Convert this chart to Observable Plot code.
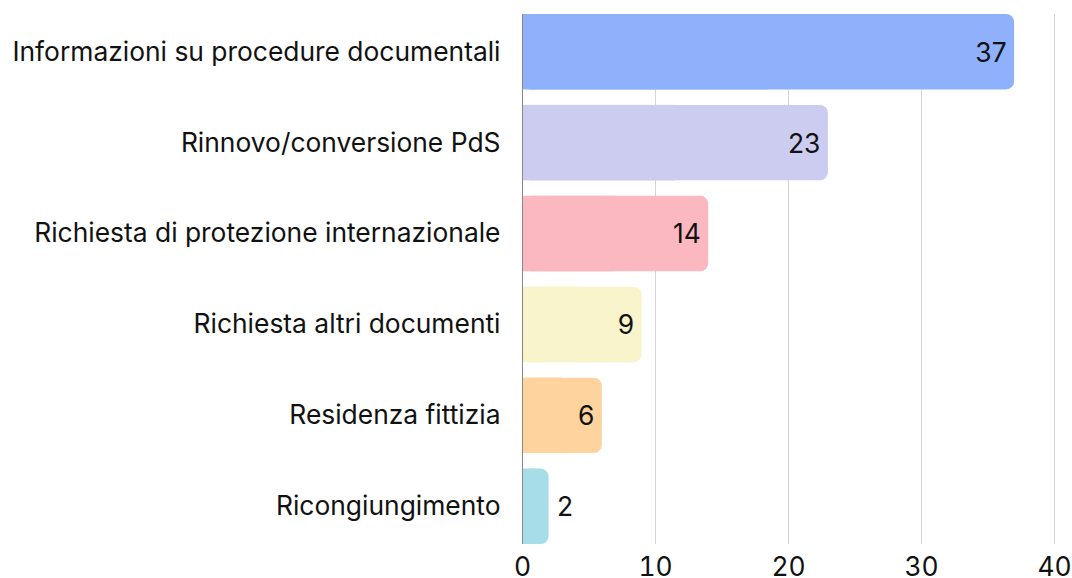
<!DOCTYPE html>
<html>
<head>
<meta charset="utf-8">
<script src="https://cdn.jsdelivr.net/npm/d3@7"></script>
<script src="https://cdn.jsdelivr.net/npm/@observablehq/plot@0.6"></script>
<style>
  html, body { margin: 0; padding: 0; background: #fff; }
  #chart svg { display: block; }
</style>
</head>
<body>
<div id="chart"></div>
<script>
const categories = [
  "Informazioni su procedure documentali",
  "Rinnovo/conversione PdS",
  "Richiesta di protezione internazionale",
  "Richiesta altri documenti",
  "Residenza fittizia",
  "Ricongiungimento"
];
const values = [37, 23, 14, 9, 6, 2];
const colors = ["#8fb0fa", "#cccbf0", "#fbb8c1", "#f9f4cb", "#fed39d", "#a7dde8"];
const xTicks = [0, 10, 20, 30, 40];

const data = categories.map((c, i) => ({category: c, value: values[i], color: colors[i]}));

const chart = Plot.plot({
  width: 1072,
  height: 578,
  marginLeft: 522,
  marginRight: 18,
  marginTop: 14,
  marginBottom: 34,
  style: {fontFamily: "Inter, sans-serif", fontSize: "26.4px", color: "#111", background: "#fff"},
  x: {domain: [0, 40], ticks: xTicks, grid: true, label: null, tickSize: 0, tickPadding: 13},
  y: {domain: categories, padding: 0.17, paddingOuter: 0, round: false, label: null, tickSize: 0, tickPadding: 22},
  marks: [
    Plot.gridX(xTicks, {stroke: "#d4d4d4", strokeOpacity: 1}),
    Plot.barX(data, {y: "category", x: "value", fill: "color", rx: 8}),
    Plot.barX(data, {y: "category", x1: 0, x2: d => d.value / 2, fill: "color"}),
    Plot.ruleX([0], {stroke: "#888", strokeWidth: 1}),
    Plot.text(data.filter(d => d.value > 3), {y: "category", x: "value", text: d => String(d.value), textAnchor: "end", dx: -8, dy: 1, fill: "#111", fontSize: 26.4}),
    Plot.text(data.filter(d => d.value <= 3), {y: "category", x: "value", text: d => String(d.value), textAnchor: "start", dx: 8, dy: 1, fill: "#111", fontSize: 26.4})
  ]
});
document.getElementById("chart").appendChild(chart);
</script>
</body>
</html>
